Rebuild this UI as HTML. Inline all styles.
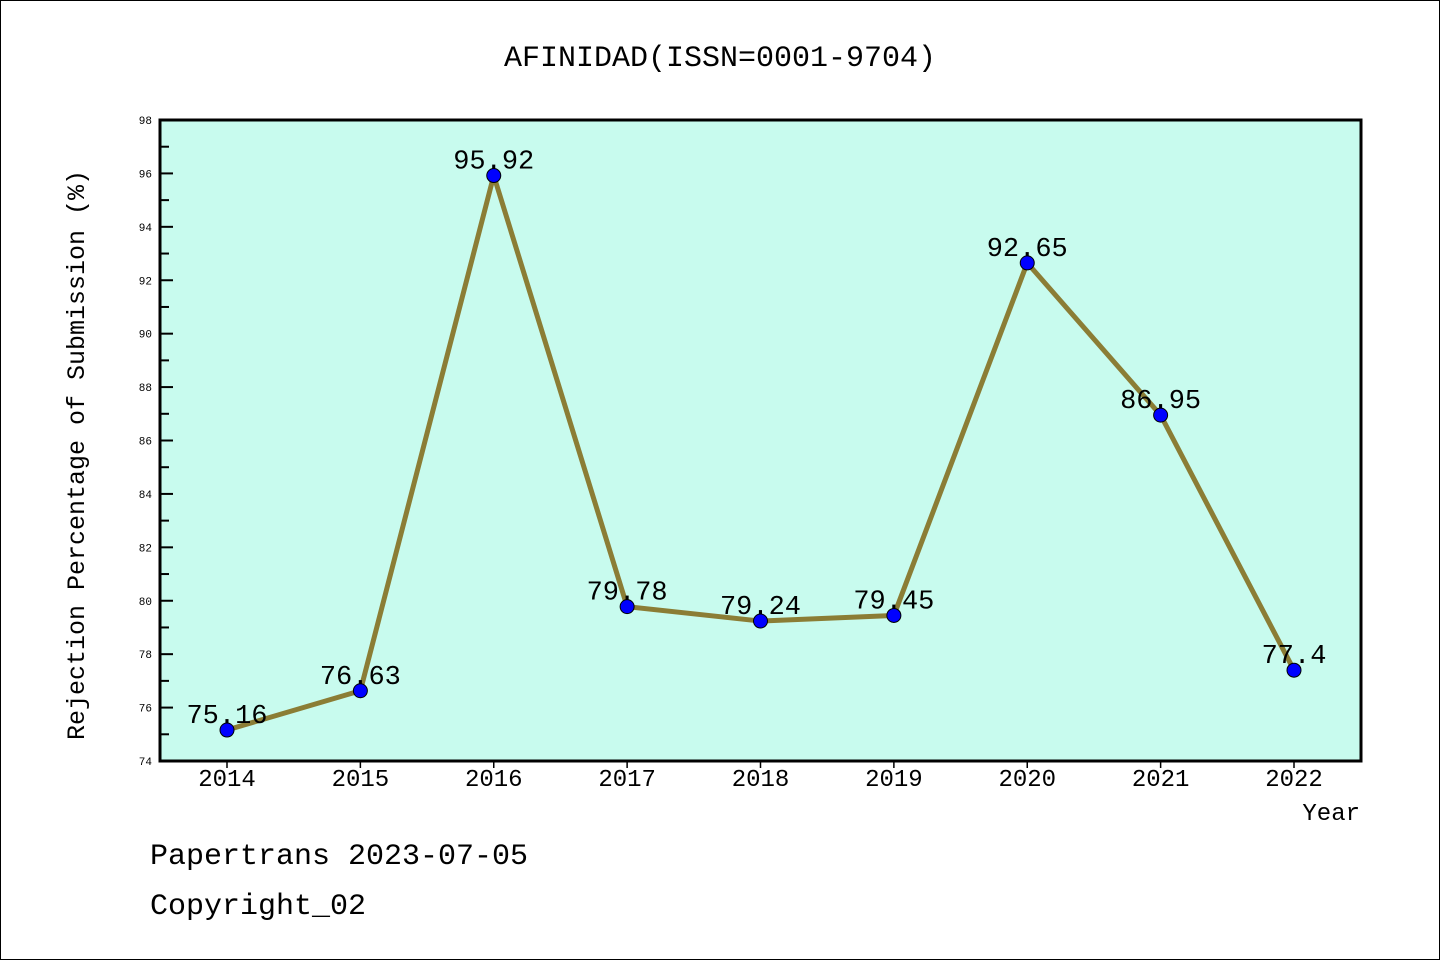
<!DOCTYPE html>
<html><head><meta charset="utf-8"><style>
body{margin:0;background:#fff}
svg{display:block}
text{font-family:"WenQuanYi Zen Hei","Liberation Mono",monospace;fill:#000}
</style></head><body>
<svg width="1440" height="960">
<rect x="0.5" y="0.5" width="1439" height="959" fill="#fff" stroke="#000"/>
<text x="720" y="66" font-size="30" text-anchor="middle">AFINIDAD(ISSN=0001-9704)</text>
<rect x="160" y="120" width="1201" height="641" fill="#c8fbee"/>
<g id="axes"></g>
<g id="marks"></g>
<rect x="160" y="120" width="1201" height="641" fill="none" stroke="#000" stroke-width="3"/>
<text x="84" y="455" font-size="25" text-anchor="middle" transform="rotate(-90 84 455)">Rejection Percentage of Submission (%)</text>
<text x="1360" y="820" font-size="24" text-anchor="end">Year</text>
<text x="150" y="864" font-size="30">Papertrans 2023-07-05</text>
<text x="150" y="914" font-size="30">Copyright_02</text>
</svg>
<script>
const years=["2014","2015","2016","2017","2018","2019","2020","2021","2022"];
const values=[75.16,76.63,95.92,79.78,79.24,79.45,92.65,86.95,77.4];
const valueLabels=["75.16","76.63","95.92","79.78","79.24","79.45","92.65","86.95","77.4"];
const yTicks=[74,76,78,80,82,84,86,88,90,92,94,96,98];
const NS="http://www.w3.org/2000/svg";
const yMin=74,yMax=98,plotTop=120,plotBot=761;
function ys(v){return plotBot-(v-yMin)/(yMax-yMin)*(plotBot-plotTop);}
function xs(i){return 227+i*(1294-227)/(years.length-1);}
function mk(t,a,p){const e=document.createElementNS(NS,t);for(const k in a)e.setAttribute(k,a[k]);p.appendChild(e);return e;}
const ax=document.getElementById('axes'),mg=document.getElementById('marks');
yTicks.forEach((v,i)=>{
  const y=ys(v);
  const t=mk('line',{x1:160,x2:173,y1:y,y2:y,stroke:'#000','stroke-width':2},ax);
  
  
  const l=mk('text',{x:152,y:y+4,'font-size':11,'text-anchor':'end'},ax);l.textContent=v;
  
  
  if(i<yTicks.length-1){const ym=ys(v+1);
    const m=mk('line',{x1:160,x2:169,y1:ym,y2:ym,stroke:'#000','stroke-width':2},ax);
    
    }
});
years.forEach((yr,i)=>{
  const x=xs(i);
  const t=mk('line',{x1:x,x2:x,y1:761,y2:768,stroke:'#000','stroke-width':1.5},ax);
  
  
  const l=mk('text',{x:x,y:786,'font-size':24,'text-anchor':'middle'},ax);l.textContent=yr;
  
  
});
const pl=mk('polyline',{points:values.map((v,i)=>xs(i)+','+ys(v)).join(' '),fill:'none',stroke:'#8b7d35','stroke-width':5,'stroke-linejoin':'round'},mg);


values.forEach((v,i)=>{
  const c=mk('circle',{cx:xs(i),cy:ys(v),r:7,fill:'#0000ff',stroke:'#000','stroke-width':1},mg);
  
  
  const l=mk('text',{x:xs(i),y:ys(v)-7,'font-size':27,'text-anchor':'middle'},mg);l.textContent=valueLabels[i];
  
  
});
</script>
</body></html>
